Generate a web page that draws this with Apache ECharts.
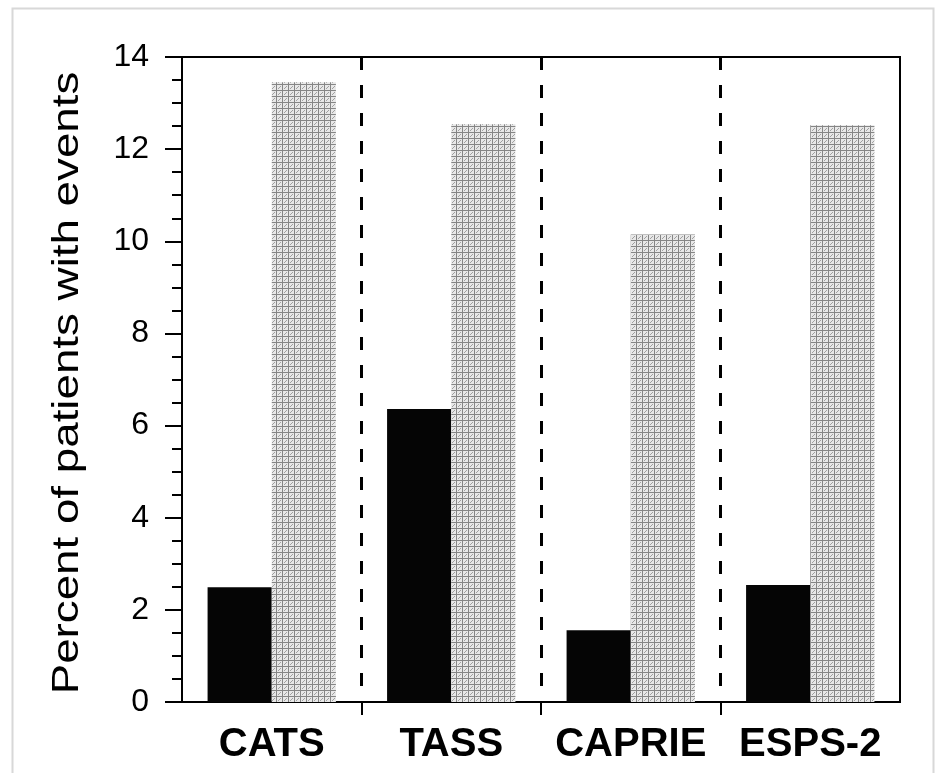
<!DOCTYPE html>
<html>
<head>
<meta charset="utf-8">
<script src="https://cdn.jsdelivr.net/npm/echarts@6/dist/echarts.min.js"></script>
<style>html,body{margin:0;padding:0;background:#fff;}#c{width:938px;height:773px;}</style>
</head>
<body>
<div id="c"></div>
<script>
const categories = ['CATS', 'TASS', 'CAPRIE', 'ESPS-2'];
const blackValues = [2.49, 6.36, 1.56, 2.54];
const grayValues = [13.45, 12.54, 10.15, 12.52];
const yAxisTitle = 'Percent of patients with events';
// helper axis: one slot per category boundary (ticks/dividers only at the inner boundaries)
const boundarySlots = ['b0', 'b1', 'b2', 'b3', 'b4'];

function makePattern() {
  const c = document.createElement('canvas');
  c.width = 6; c.height = 6;
  const g = c.getContext('2d');
  g.fillStyle = '#e8e8e8';
  g.fillRect(0, 0, 6, 6);
  g.fillStyle = '#858585';
  g.fillRect(0, 0, 6, 1);
  g.fillRect(0, 0, 1, 6);
  g.fillStyle = '#a0a0a0';
  g.fillRect(3, 3, 1, 1);
  g.fillRect(2, 4, 1, 1);
  g.fillRect(4, 2, 1, 1);
  return c;
}

const inner = function (i) { return i >= 1 && i <= 3; };
const chart = echarts.init(document.getElementById('c'), null, {renderer: 'canvas'});
const font = '"Liberation Sans", Arial, sans-serif';
chart.setOption({
  animation: false,
  backgroundColor: '#fff',
  graphic: [{
    type: 'rect', left: 10, top: 6, shape: {width: 921, height: 780},
    style: {fill: 'none', stroke: '#d8d8d8', lineWidth: 2}, silent: true, z: -1
  }, {
    type: 'text', x: 68, y: 383, rotation: Math.PI / 2, scaleX: 1.27, scaleY: 1,
    style: {text: yAxisTitle, fontFamily: font, fontSize: 36, fill: '#000', align: 'center', verticalAlign: 'middle'},
    silent: true
  }],
  grid: {left: 182, right: 38, top: 57, bottom: 71, show: true, borderColor: '#000', borderWidth: 2, backgroundColor: 'transparent'},
  xAxis: [{
    type: 'category',
    data: categories,
    position: 'bottom',
    axisLine: {lineStyle: {color: '#000', width: 2}},
    axisTick: {show: false},
    axisLabel: {interval: 0, fontFamily: font, fontSize: 40, fontWeight: 'bold', color: '#000', margin: 23},
    splitLine: {show: false}
  }, {
    type: 'category',
    data: boundarySlots,
    boundaryGap: false,
    position: 'bottom',
    offset: 0,
    axisLine: {show: false},
    axisLabel: {show: false},
    splitLine: {show: true, interval: inner, lineStyle: {color: '#000', width: 3, type: [13, 15], dashOffset: 0}},
    axisTick: {show: true, length: 13, interval: inner, lineStyle: {color: '#000', width: 2}}
  }],
  yAxis: {
    type: 'value',
    min: 0, max: 14, interval: 2,
    axisLine: {show: true, lineStyle: {color: '#000', width: 2}},
    axisTick: {show: true, length: 17, lineStyle: {color: '#000', width: 2}},
    minorTick: {show: true, splitNumber: 4, length: 10, lineStyle: {color: '#000', width: 2}},
    axisLabel: {fontFamily: font, fontSize: 32, color: '#000', margin: 33},
    splitLine: {show: false}
  },
  series: [
    {type: 'bar', xAxisIndex: 0, data: blackValues, barGap: '0%', barCategoryGap: '28.5%', itemStyle: {color: '#050505'}},
    {type: 'bar', xAxisIndex: 0, data: grayValues, itemStyle: {color: {image: makePattern(), repeat: 'repeat'}}}
  ]
});
</script>
</body>
</html>
